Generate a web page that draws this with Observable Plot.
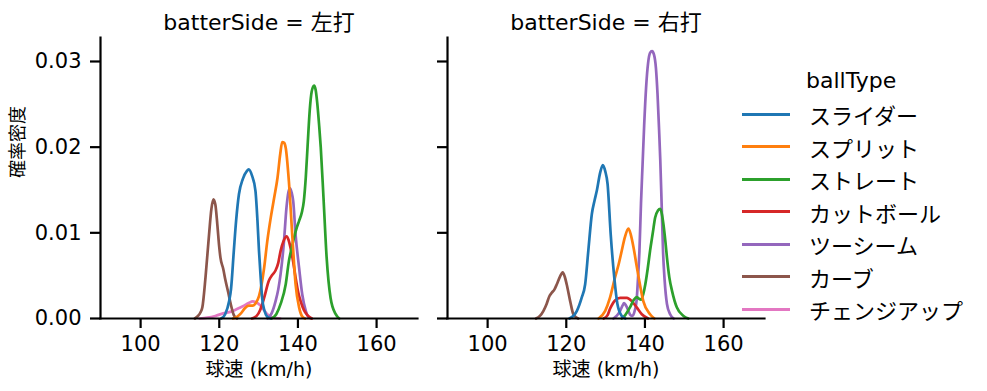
<!DOCTYPE html>
<html>
<head>
<meta charset="utf-8">
<script src="https://cdn.jsdelivr.net/npm/d3@7"></script>
<script src="https://cdn.jsdelivr.net/npm/@observablehq/plot@0.6"></script>
<style>
  html, body { margin: 0; padding: 0; background: #fff; }
  #wrap { position: relative; width: 987px; height: 391px; font-family: "DejaVu Sans", "Noto Sans CJK JP", sans-serif; color: #000; }
  #legend { position: absolute; left: 0; top: 0; }
  .lg-title { position: absolute; left: 806px; top: 67px; font-size: 22px; line-height: 28px; white-space: nowrap; }
  .lg-item { position: absolute; left: 742px; height: 28px; display: flex; align-items: center; white-space: nowrap; }
  .lg-line { width: 48px; height: 3px; margin-right: 19px; }
  .lg-text { font-size: 22px; line-height: 28px; font-family: "Noto Sans CJK JP", sans-serif; }
</style>
</head>
<body>
<div id="wrap"><div id="chart"></div><div id="legend"></div></div>
<script>
// ---- data ----
const sides = ["左打", "右打"];
const ballTypes = ["スライダー", "スプリット", "ストレート", "カットボール", "ツーシーム", "カーブ", "チェンジアップ"];
const colors = ["#1f77b4", "#ff7f0e", "#2ca02c", "#d62728", "#9467bd", "#8c564b", "#e377c2"];
const xTicks = [100, 120, 140, 160];
const yTicks = [0, 0.01, 0.02, 0.03];

// 左打: [speed km/h, density]
const leftSlider = [[120.5,0],[121.5,0.0005],[122.5,0.002],[123,0.0035],[123.7,0.0079],[124.3,0.0115],[125,0.0145],[126,0.0163],[127,0.0172],[127.5,0.0174],[128.3,0.0167],[129.2,0.0149],[129.7,0.0115],[130.1,0.0079],[130.5,0.005],[130.9,0.0024],[131.5,0.0009],[132.2,0.0002],[133,0]];
const leftSplit = [[123.5,0],[124.5,0.0002],[125.5,0.0006],[126.5,0.0012],[127.5,0.0015],[128.5,0.0015],[129.3,0.0018],[130.1,0.0026],[131.4,0.0059],[132.2,0.009],[133.1,0.0118],[134,0.0142],[134.8,0.0164],[135.5,0.0192],[136,0.0206],[136.5,0.0205],[136.9,0.0199],[137.7,0.016],[138.6,0.0094],[139.4,0.004],[140.3,0.0013],[141,0.0003],[141.8,0]];
const leftStraight = [[133.3,0],[134.5,0.0005],[135.6,0.0017],[136.9,0.004],[137.7,0.0067],[138.4,0.0082],[139,0.0094],[139.7,0.0106],[140.3,0.0114],[141,0.0124],[141.5,0.0137],[142,0.0165],[142.5,0.0205],[143,0.0243],[143.5,0.0265],[144.1,0.0272],[144.5,0.0267],[144.9,0.0252],[145.4,0.0225],[145.8,0.02],[146.5,0.0141],[147.3,0.0071],[148.3,0.0024],[149.6,0.0005],[150.5,0]];
const leftCutter = [[128.3,0],[129.5,0.0003],[130.4,0.001],[131.4,0.0024],[132.6,0.0044],[133.5,0.0051],[134.3,0.0056],[135,0.0065],[135.6,0.0079],[136.4,0.0091],[137.1,0.0096],[137.6,0.0092],[138.1,0.0083],[138.8,0.0066],[139.4,0.0048],[140.1,0.003],[140.7,0.002],[141.5,0.001],[142.4,0.0004],[143.5,0]];
const leftTwoSeam = [[132.3,0],[133.3,0.0006],[134.3,0.002],[135,0.0034],[135.6,0.0052],[136.4,0.0087],[137.1,0.013],[137.6,0.0148],[138,0.0152],[138.4,0.0147],[138.8,0.0137],[139.4,0.0098],[140.3,0.0059],[141.1,0.0028],[142,0.0009],[142.8,0.0001],[143.5,0]];
const leftCurve = [[113.8,0],[114.6,0.0003],[115.2,0.0007],[115.7,0.0013],[116.5,0.0048],[117.4,0.0098],[118,0.0128],[118.5,0.0139],[119,0.0133],[119.5,0.011],[120,0.0083],[120.3,0.0071],[121,0.0058],[121.6,0.0044],[122.3,0.003],[122.9,0.0017],[123.7,0.0004],[124.5,0]];
const leftChangeup = [[115,0],[117,0.0001],[119,0.0003],[121,0.0006],[123,0.0008],[124.5,0.0011],[126.3,0.0015],[127.5,0.0018],[128.5,0.002],[129.3,0.0019],[130.5,0.0015],[131.5,0.0009],[132.2,0.0005],[133.5,0.0001],[135.5,0]];

// 右打
const rightSlider = [[120.8,0],[122,0.0004],[122.7,0.0009],[123.9,0.0024],[124.8,0.004],[125.6,0.0079],[126.5,0.0122],[127.2,0.0138],[127.8,0.015],[128.6,0.017],[129.3,0.0179],[129.9,0.0172],[130.5,0.0157],[131.3,0.0098],[132.2,0.0048],[133,0.0017],[134.1,0.0003],[135,0]];
const rightSplit = [[128.2,0],[129.9,0.0009],[131.1,0.0024],[132.4,0.0048],[133.3,0.0063],[134.1,0.0079],[134.9,0.0095],[135.8,0.0105],[136.4,0.0098],[137.1,0.0083],[137.8,0.0064],[138.4,0.0048],[139.6,0.002],[141.3,0.0005],[142.4,0]];
const rightStraight = [[134.1,0],[135,0.0004],[136.2,0.0013],[137.2,0.0022],[137.9,0.0025],[138.5,0.0023],[139,0.0022],[139.6,0.0029],[140.1,0.004],[140.7,0.0058],[141.3,0.0079],[142,0.01],[142.6,0.0118],[143.3,0.0126],[143.9,0.0128],[144.3,0.0122],[144.7,0.011],[145.2,0.009],[145.6,0.0071],[146.2,0.0048],[146.9,0.0032],[148.1,0.0013],[149.8,0.0003],[151,0]];
const rightCutter = [[129.5,0],[130.5,0.0004],[131.1,0.0011],[132.4,0.0021],[133.7,0.0024],[134.5,0.0024],[135.4,0.0024],[136.7,0.002],[137.9,0.0013],[139.2,0.0005],[140.8,0]];
const rightTwoSeam = [[132,0],[132.8,0.0003],[133.7,0.0009],[134.3,0.0015],[134.7,0.0018],[135.2,0.0015],[135.8,0.0009],[136.3,0.0004],[136.8,0.0003],[137.4,0.0009],[137.9,0.0022],[138.3,0.0052],[138.6,0.0079],[139,0.0135],[139.4,0.018],[139.8,0.0225],[140.3,0.027],[140.8,0.0298],[141.3,0.031],[141.8,0.0312],[142.3,0.0308],[142.8,0.0292],[143.2,0.0262],[143.6,0.022],[143.9,0.0185],[144.3,0.0125],[144.6,0.0079],[145,0.0045],[145.6,0.0017],[146.4,0.0005],[147.3,0]];
const rightCurve = [[112.3,0],[113.3,0.0003],[114.2,0.0009],[115,0.0017],[115.7,0.0026],[116.3,0.003],[117,0.0034],[117.6,0.004],[118.4,0.0049],[119.1,0.0054],[119.6,0.0049],[120.1,0.004],[121,0.002],[121.8,0.0005],[123,0]];
const rightChangeup = [];

// ---- build long table (drawn in reverse legend order, like seaborn) ----
const series = {
  "左打": [leftSlider, leftSplit, leftStraight, leftCutter, leftTwoSeam, leftCurve, leftChangeup],
  "右打": [rightSlider, rightSplit, rightStraight, rightCutter, rightTwoSeam, rightCurve, rightChangeup]
};
const rows = [];
for (let i = ballTypes.length - 1; i >= 0; i--) {
  for (const side of sides) {
    for (const [speed, density] of series[side][i]) {
      rows.push({side, type: ballTypes[i], speed, density});
    }
  }
}

const FONT = '"DejaVu Sans", "Noto Sans CJK JP", sans-serif';

const chart = Plot.plot({
  width: 987,
  height: 391,
  marginLeft: 100,
  marginRight: 223,
  marginTop: 37,
  marginBottom: 73,
  style: {fontFamily: FONT, background: "white", color: "black", overflow: "visible"},
  x: {domain: [89.8, 170.4]},
  y: {domain: [0, 0.0328]},
  fx: {domain: sides, paddingInner: 0.0865, paddingOuter: 0, round: false},
  color: {domain: ballTypes, range: colors},
  marks: [
    Plot.line(rows, {x: "speed", y: "density", z: "type", stroke: "type", fx: "side", curve: "monotone-x", strokeWidth: 2.7}),
    Plot.frame({anchor: "left", strokeWidth: 2.2, stroke: "black"}),
    Plot.frame({anchor: "bottom", strokeWidth: 2.2, stroke: "black"}),
    Plot.axisFx({anchor: "top", tickSize: 0, tickPadding: 8, fontSize: 22, label: null, tickFormat: d => `batterSide = ${d}`}),
    Plot.axisX(xTicks, {tickSize: 10, strokeWidth: 2.2, tickPadding: 8, fontSize: 21, label: null}),
    Plot.axisY(yTicks, {facetAnchor: null, tickSize: 10, strokeWidth: 2.2, tickFormat: () => "", label: null}),
    Plot.axisY(yTicks, {facetAnchor: "left", tickSize: 0, tickPadding: 19, fontSize: 21, tickFormat: d => d.toFixed(2), label: null}),
    Plot.text(["確率密度"], {frameAnchor: "left", dx: -82, rotate: -90, fontSize: 18, facetAnchor: "left"}),
    Plot.text(["球速 (km/h)"], {frameAnchor: "bottom", dy: 57, fontSize: 19})
  ]
});
document.getElementById("chart").appendChild(chart);

// ---- legend ----
const legend = document.getElementById("legend");
const t = document.createElement("div");
t.className = "lg-title";
t.textContent = "ballType";
legend.appendChild(t);
ballTypes.forEach((name, i) => {
  const item = document.createElement("div");
  item.className = "lg-item";
  item.style.top = (100 + 32.5 * i) + "px";
  const line = document.createElement("div");
  line.className = "lg-line";
  line.style.background = colors[i];
  const txt = document.createElement("span");
  txt.className = "lg-text";
  txt.textContent = name;
  item.appendChild(line);
  item.appendChild(txt);
  legend.appendChild(item);
});
</script>
</body>
</html>
